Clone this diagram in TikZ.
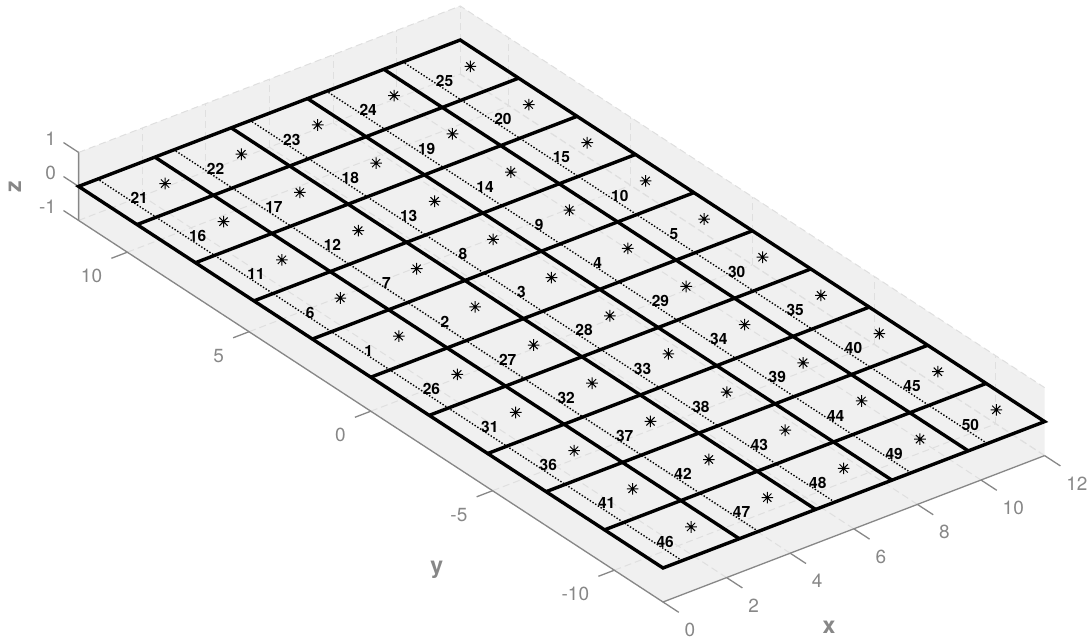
\documentclass[tikz,border=0pt]{standalone}
\usepackage{fontspec}
\setmainfont{TeX Gyre Heros}
\definecolor{bgc}{gray}{0.94}
\definecolor{gridc}{gray}{0.875}
\definecolor{axc}{gray}{0.53}
\begin{document}
\begin{tikzpicture}[x=1pt,y=1pt,
  gridline/.style={draw=gridc,line width=1pt,dash pattern=on 7pt off 4pt},
  axisline/.style={draw=axc,line width=1.3pt},
  ticklabel/.style={text=axc,inner sep=0pt,font=\fontsize{19}{19}\selectfont},
  axlabel/.style={text=axc,inner sep=0pt,font=\bfseries\fontsize{23}{23}\selectfont},
  panelline/.style={draw=black,line width=3.4pt},
  vortex/.style={draw=black,line width=1.4pt,dash pattern=on 1.4pt off 1.8pt},
  plabel/.style={anchor=west,inner sep=3.5pt,text=black,font=\bfseries\fontsize{15.5}{15.5}\selectfont},
  ast/.pic={\draw[line width=1pt,black] (-5.8pt,0pt)--(5.8pt,0pt) (0pt,-5.8pt)--(0pt,5.8pt)
     (-4.1pt,-4.1pt)--(4.1pt,4.1pt) (-4.1pt,4.1pt)--(4.1pt,-4.1pt);}
]
\useasboundingbox (0,0) rectangle (1089,-642);
% axis labels
\node[axlabel] (xlab) at (829,-627) {x};
\node[axlabel] (ylab) at (436.7,-570) {y};
\node[axlabel,rotate=90] (zlab) at (15,-186.7) {z};
\begin{scope}[shift={(370.8pt,-377.2pt)},x={(31.8pt,12.2pt)},y={(-24.35pt,15.9pt)},z={(0pt,34pt)}]
  % back planes
  \fill[bgc] (0,12,1) -- (12,12,1) -- (12,-12,1) -- (12,-12,-1) -- (0,-12,-1) -- (0,12,-1) -- cycle;
  % grid
  \foreach \xx in {0,2,...,12}{
    \draw[gridline] (\xx,12,-1) -- (\xx,12,1);
    \draw[gridline] (\xx,-12,-1) -- (\xx,12,-1);
  }
  \foreach \yy in {-10,-5,...,10}{
    \draw[gridline] (12,\yy,-1) -- (12,\yy,1);
    \draw[gridline] (0,\yy,-1) -- (12,\yy,-1);
  }
  \foreach \zz in {-1,0,1}{
    \draw[gridline] (0,12,\zz) -- (12,12,\zz) -- (12,-12,\zz);
  }
  % axes
  \draw[axisline] (12,-12,-1) -- (0,-12,-1) -- (0,12,-1) -- (0,12,1);
  \foreach \xx in {0,2,...,12}{
    \draw[axisline] (\xx,-12,-1) -- (\xx,-12.65,-1);
    \node[ticklabel,anchor=west,xshift=21.5pt,yshift=-28pt] (xt\xx) at (\xx,-12,-1) {\xx};
  }
  \foreach \yy in {-10,-5,...,10}{
    \draw[axisline] (0,\yy,-1) -- (-0.5,\yy,-1);
    \node[ticklabel,anchor=east,xshift=-25pt,yshift=-24pt] (yt\yy) at (0,\yy,-1) {\yy};
  }
  \foreach \zz in {-1,0,1}{
    \draw[axisline] (0,12,\zz) -- (0,12.62,\zz);
    \node[ticklabel,anchor=east,xshift=-22.5pt,yshift=13.5pt] (zt\zz) at (0,12,\zz) {\zz};
  }
  % panels
  \foreach \k in {1,...,4}{
    \draw[panelline] (2.4*\k,-12,0) -- (2.4*\k,12,0);
  }
  \foreach \k in {1,...,9}{
    \draw[panelline] (0,-12+2.4*\k,0) -- (12,-12+2.4*\k,0);
  }
  \draw[panelline,line join=miter] (0,-12,0) -- (12,-12,0) -- (12,12,0) -- (0,12,0) -- cycle;
  % bound vortex lines
  \foreach \c in {1,...,5}{
    \pgfmathsetmacro\xa{2.4*(\c-1)+0.6}
    \draw[vortex] (\xa,-12,0) -- (\xa,12,0);
  }
  % control points and labels
  \foreach \r in {1,...,10}{
    \foreach \c in {1,...,5}{
      \pgfmathsetmacro\ym{12-2.4*\r+1.2}
      \pgfmathsetmacro\xa{2.4*(\c-1)+0.6}
      \pgfmathsetmacro\xc{2.4*(\c-1)+1.8}
      \pgfmathtruncatemacro\n{\r<6 ? 5*(5-\r)+\c : 25+5*(\r-6)+\c}
      \pic at (\xc,\ym,0) {ast};
      \node[plabel] (p\n) at (\xa,\ym,0) {\n};
    }
  }
\end{scope}
\end{tikzpicture}
\end{document}
